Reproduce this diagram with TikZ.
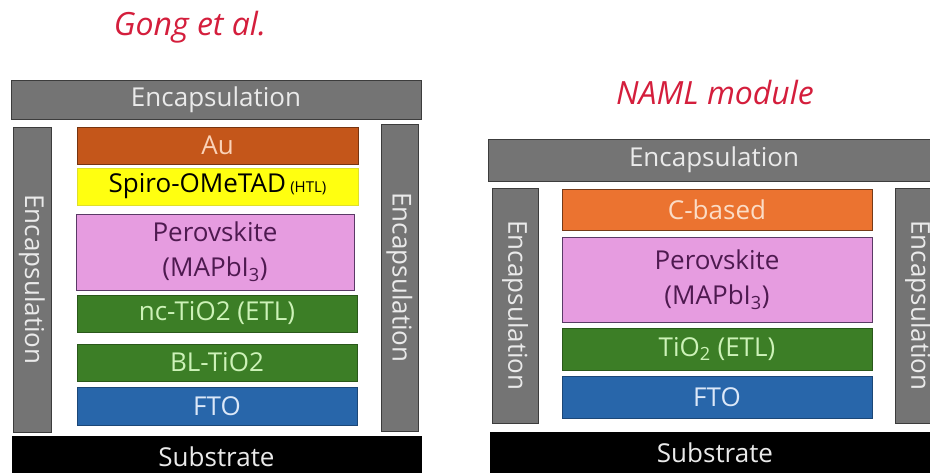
\documentclass[tikz,border=0pt]{standalone}
\usepackage{fontspec}
\setmainfont{Open Sans}
\newfontfamily\titlefont{Open Sans}
\begin{document}
\begin{tikzpicture}[x=1pt,y=-1pt,
  layer/.style={draw, line width=1pt, inner sep=0pt, font=\fontsize{26}{35}\selectfont},
  encbox/.style={layer, fill=encgray, draw=encedge, text=enctext},
  vert/.style={encbox, rotate=-90},
  ttl/.style={font=\titlefont\itshape\fontsize{32}{36}\selectfont, text=titlered}]
\definecolor{encgray}{HTML}{747474}
\definecolor{encedge}{HTML}{3C3C3C}
\definecolor{enctext}{HTML}{EAEAEA}
\definecolor{aufill}{HTML}{C4561A}
\definecolor{autext}{HTML}{FAD2B8}
\definecolor{cfill}{HTML}{EB7330}
\definecolor{ctext}{HTML}{FBDCC6}
\definecolor{spfill}{HTML}{FFFF10}
\definecolor{pkfill}{HTML}{E69CE0}
\definecolor{pktext}{HTML}{4E1A50}
\definecolor{pkedge}{HTML}{5A3A66}
\definecolor{grfill}{HTML}{3C7E26}
\definecolor{grtext}{HTML}{CDF2B8}
\definecolor{blfill}{HTML}{2866AA}
\definecolor{bltext}{HTML}{DCE8F8}
\definecolor{titlered}{HTML}{D41E3C}
\useasboundingbox (0,0) rectangle (930,472);
% left panel
\node[ttl] (t1) at (190,27) {Gong et al.};
\node[encbox, minimum width=410pt, minimum height=39pt] (encT1) at (216,99.5) {Encapsulation};
\node[vert, minimum width=305pt, minimum height=38pt] (encL1) at (32,279.5) {Encapsulation};
\node[vert, minimum width=307pt, minimum height=37pt] (encR1) at (399.5,277.5) {Encapsulation};
\node[layer, fill=aufill, draw=aufill!60!black, text=autext, minimum width=281pt, minimum height=37pt] (au) at (217.5,145.5) {Au};
\node[layer, fill=spfill, draw=spfill!75!gray, text=black, minimum width=281pt, minimum height=37pt] (spiro) at (217.5,186.5) {Spiro-OMeTAD\,{\fontsize{15}{17}\selectfont(HTL)}};
\node[layer, fill=pkfill, draw=pkedge, text=pktext, minimum width=278pt, minimum height=76pt, align=center] (pk1) at (215,252) {Perovskite\\(MAPbI\textsubscript{3})};
\node[layer, fill=grfill, draw=grfill!70!black, text=grtext, minimum width=280pt, minimum height=37pt] (nc) at (217,313.5) {nc-TiO2 (ETL)};
\node[layer, fill=grfill, draw=grfill!70!black, text=grtext, minimum width=280pt, minimum height=37pt] (bl) at (217,362.5) {BL-TiO2};
\node[layer, fill=blfill, draw=blfill!70!black, text=bltext, minimum width=280pt, minimum height=38pt] (fto1) at (217,406) {FTO};
\node[layer, fill=black, draw=black, text=enctext, minimum width=409pt, minimum height=42pt] (sub1) at (216.5,457) {Substrate};
% right panel
\node[ttl] (t2) at (715,92) {NAML module};
\node[encbox, minimum width=452pt, minimum height=42pt] (encT2) at (714,160) {Encapsulation};
\node[vert, minimum width=235pt, minimum height=46pt] (encL2) at (515,305.5) {Encapsulation};
\node[vert, minimum width=235pt, minimum height=46pt] (encR2) at (918,305.5) {Encapsulation};
\node[layer, fill=cfill, draw=cfill!50!black, text=ctext, minimum width=310pt, minimum height=41pt] (cb) at (717,209.5) {C-based};
\node[layer, fill=pkfill, draw=pkedge, text=pktext, minimum width=310pt, minimum height=85pt, align=center] (pk2) at (717,279.5) {Perovskite\\(MAPbI\textsubscript{3})};
\node[layer, fill=grfill, draw=grfill!70!black, text=grtext, minimum width=310pt, minimum height=42pt] (ti2) at (717,349) {TiO\textsubscript{2} (ETL)};
\node[layer, fill=blfill, draw=blfill!70!black, text=bltext, minimum width=310pt, minimum height=42pt] (fto2) at (717,397) {FTO};
\node[layer, fill=black, draw=black, text=enctext, minimum width=450pt, minimum height=42pt] (sub2) at (715,453) {Substrate};
\end{tikzpicture}
\end{document}
